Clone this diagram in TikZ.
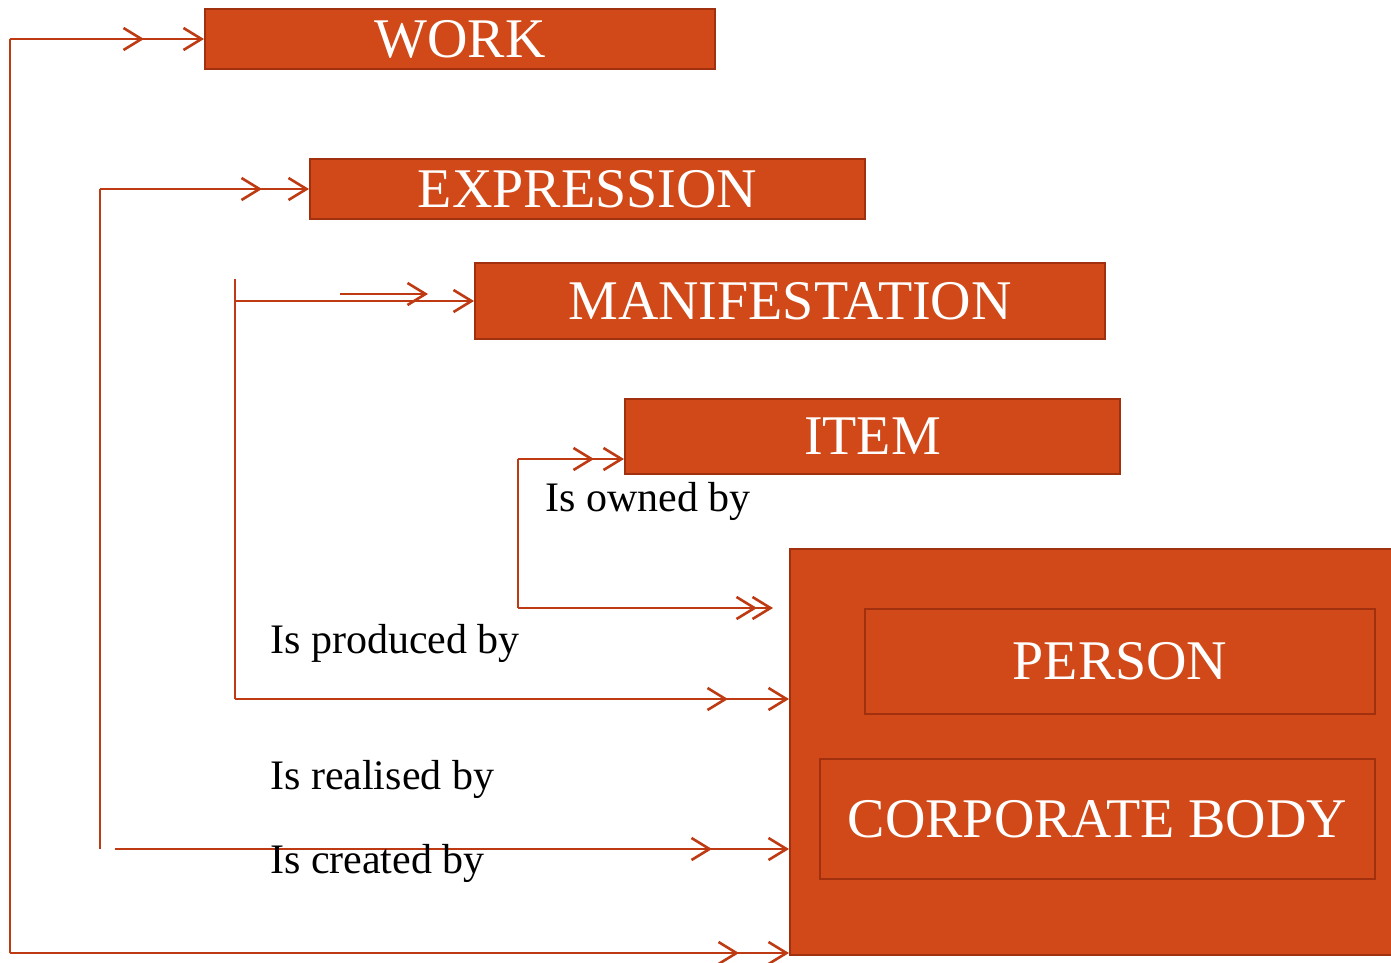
\documentclass[tikz,border=0pt]{standalone}
\usepackage{fontspec}
\setmainfont{Liberation Serif}
\usetikzlibrary{arrows.meta,decorations.markings}
\definecolor{boxfill}{RGB}{209,73,24}
\definecolor{boxline}{RGB}{160,48,14}
\definecolor{connc}{RGB}{190,58,18}
\begin{document}
\begin{tikzpicture}[x=1pt,y=1pt,
  box/.style={draw=boxline, line width=2pt, fill=boxfill, text=white, font=\fontsize{56}{62}\selectfont, inner sep=0pt},
  frame/.style={draw=boxline, line width=2pt, text=white, font=\fontsize{56}{62}\selectfont, inner sep=0pt},
  lbl/.style={font=\fontsize{42}{47}\selectfont, anchor=base west, inner sep=0pt, text=black},
  conn/.style={draw=connc, line width=2.6pt},
  tip/.style={-{Straight Barb[length=18pt,width=22pt]}},
  mid/.style={postaction={decorate, decoration={markings, mark=at position #1 with {\arrow{Straight Barb[length=18pt,width=22pt]}}}}}
]
\useasboundingbox (0,0) rectangle (1391,-963);

% boxes
\node[box, minimum width=510pt, minimum height=60pt] (work) at (460,-39) {WORK};
\node[box, minimum width=555pt, minimum height=60pt] (expression) at (587.5,-189) {EXPRESSION};
\node[box, minimum width=630pt, minimum height=76pt] (manifestation) at (790,-301) {MANIFESTATION};
\node[box, minimum width=495pt, minimum height=75pt] (item) at (872.5,-436.5) {ITEM};
\node[box, minimum width=602pt, minimum height=406pt] (big) at (1091,-752) {};
\node[frame, minimum width=510pt, minimum height=105pt] (person) at (1120,-661.5) {PERSON};
\node[frame, minimum width=555pt, minimum height=120pt] (corp) at (1097.5,-819) {CORPORATE BODY};

% coordinates
\coordinate (w1) at (10,-39);
\coordinate (w2) at (10,-953);
\coordinate (e1) at (100,-189);
\coordinate (e2) at (100,-849);
\coordinate (e3) at (115,-849);
\coordinate (m1) at (235,-279);
\coordinate (m0) at (235,-301);
\coordinate (m2) at (235,-699);
\coordinate (m3) at (340,-294);
\coordinate (m4) at (428,-294);
\coordinate (i1) at (518,-459);
\coordinate (i2) at (518,-608);
\coordinate (i3) at (773,-608);

% connectors
\draw[conn] (w1) -- (w2);
\draw[conn,tip,mid=-60pt] (w1) -- (work.west);
\draw[conn,tip,mid=-50pt] (w2) -- (w2 -| big.west);

\draw[conn] (e1) -- (e2);
\draw[conn,tip,mid=-47pt] (e1) -- (expression.west);
\draw[conn,tip,mid=-77pt] (e3) -- (e3 -| big.west);

\draw[conn] (m1) -- (m2);
\draw[conn,tip] (m0) -- (manifestation.west);
\draw[conn,tip] (m3) -- (m4);
\draw[conn,tip,mid=-61pt] (m2) -- (m2 -| big.west);

\draw[conn] (i1) -- (i2);
\draw[conn,tip,mid=-30pt] (i1) -- (i1 -| item.west);
\draw[conn,tip,mid=-16pt] (i2) -- (i3);

% labels
\node[lbl] (owned) at (545,-511) {Is owned by};
\node[lbl] (produced) at (270,-653) {Is produced by};
\node[lbl] (realised) at (270,-789) {Is realised by};
\node[lbl] (created) at (270,-873) {Is created by};
\end{tikzpicture}
\end{document}
